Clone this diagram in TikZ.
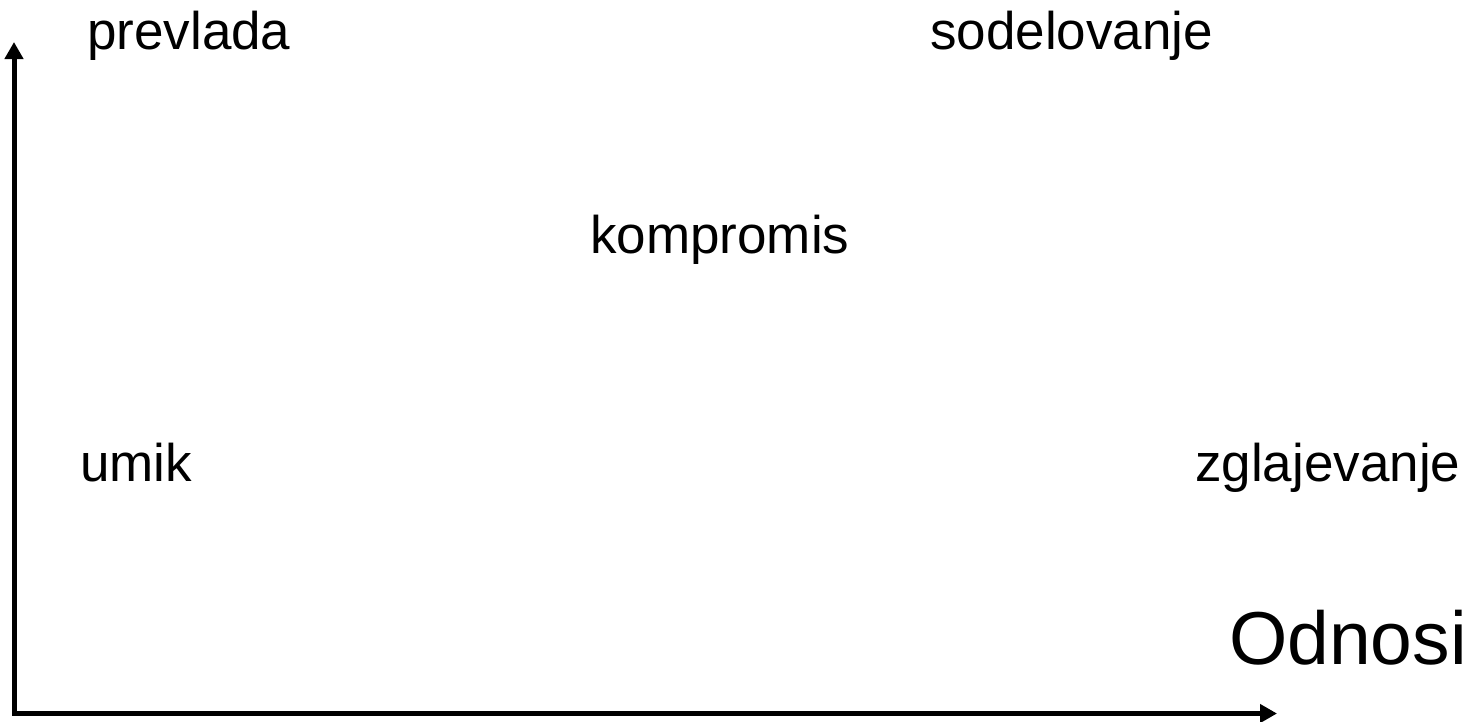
\documentclass[tikz,border=0pt]{standalone}
\usepackage{fontspec}
\setmainfont{Liberation Sans}
\usetikzlibrary{arrows.meta}
\begin{document}
\begin{tikzpicture}[x=1pt,y=-1pt,
  axis/.style={line width=5pt, line join=miter,
    {Triangle[length=17pt,width=18pt]}-{Triangle[length=17pt,width=18pt]}},
  lbl/.style={anchor=base west, inner sep=0pt, font=\fontsize{53}{62}\selectfont},
  biglbl/.style={anchor=base west, inner sep=0pt, font=\fontsize{75}{86}\selectfont}]
  \useasboundingbox (0,0) rectangle (1480,721);

  % axes
  \coordinate (ytip) at (14,42);
  \coordinate (xtip) at (1277,713.5);
  \draw[axis] (ytip) |- (xtip);

  % conflict styles
  \node[lbl] (prevlada) at (87,49) {prevlada};
  \node[lbl] (sodelovanje) at (930,49) {sodelovanje};
  \node[lbl] (kompromis) at (590,253) {kompromis};
  \node[lbl] (umik) at (80,481) {umik};
  \node[lbl] (zglajevanje) at (1195,481) {zglajevanje};

  % axis label
  \node[biglbl] (odnosi) at (1229,664) {Odnosi};
\end{tikzpicture}
\end{document}
